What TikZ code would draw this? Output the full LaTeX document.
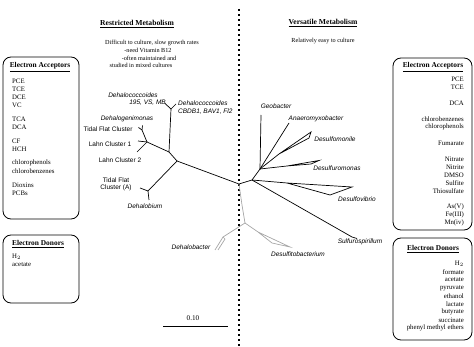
\documentclass[tikz,border=0pt]{standalone}
\usepackage{fontspec}
\setmainfont{Liberation Serif}
\newfontfamily\arialf{Liberation Sans}
\begin{document}
\begin{tikzpicture}[x=1pt,y=-1pt,
  boxframe/.style={draw=black,line width=0.8pt,rounded corners=8pt},
  hdr/.style={font=\fontsize{7.4}{8}\selectfont\bfseries,inner sep=0pt},
  itm/.style={font=\fontsize{6.8}{8}\selectfont,inner sep=0pt},
  ttl/.style={font=\fontsize{7.6}{9}\selectfont\bfseries,inner sep=0pt},
  sub/.style={font=\fontsize{6.2}{7}\selectfont,inner sep=0pt},
  tax/.style={font=\arialf\itshape\fontsize{6.5}{7.5}\selectfont,inner sep=0pt},
  clu/.style={font=\arialf\fontsize{6.5}{7.5}\selectfont,inner sep=0pt,align=center},
  br/.style={line width=0.7pt,black},
  gbr/.style={line width=0.7pt,gray!70},
  dots/.style={line width=2.5pt,dash pattern=on 2.5pt off 2.5pt}
]
\useasboundingbox (0,0) rectangle (474,347);
% dotted divider
\coordinate (dtop) at (239,9);
\coordinate (dbot) at (239,346);
\draw[dots] (dtop) -- (dbot);
% titles
\node[ttl] (tR) at (137,24) {\underline{Restricted Metabolism}};
\node[sub] (s1) at (152,43) {Difficult to culture, slow growth rates};
\node[sub] (s2) at (148,50.5) {-need Vitamin B12};
\node[sub] (s3) at (149,58) {-often maintained and};
\node[sub] (s4) at (141,65.5) {studied in mixed cultures};
\node[ttl] (tV) at (323,23) {\underline{Versatile Metabolism}};
\node[sub] (s5) at (323,41) {Relatively easy to culture};
% left boxes
\node[boxframe,minimum width=76pt,minimum height=162pt,inner sep=0pt] (LA) at (41,138) {};
\node[hdr] (LAh) at (40,67) {\underline{Electron Acceptors}};
\foreach \t/\y [count=\i] in {PCE/81,TCE/89,DCE/97,VC/105,TCA/119,DCA/127,CF/141,HCH/149,chlorophenols/163,chlorobenzenes/171,Dioxins/185,PCBs/193}
  \node[itm,anchor=west] (la\i) at (12,\y) {\t};
\node[boxframe,minimum width=76pt,minimum height=68pt,inner sep=0pt] (LD) at (41,269) {};
\node[hdr] (LDh) at (38,244) {\underline{Electron Donors}};
\node[itm,anchor=west] (ld1) at (12,257) {H$_2$};
\node[itm,anchor=west] (ld2) at (12,265) {acetate};
% right boxes
\node[boxframe,minimum width=79pt,minimum height=172pt,inner sep=0pt] (RA) at (432.5,144) {};
\node[hdr] (RAh) at (433,67) {\underline{Electron Acceptors}};
\foreach \t/\y [count=\i] in {PCE/79,TCE/87,DCA/103,chlorobenzenes/119,chlorophenols/127,Fumarate/143,Nitrate/159,Nitrite/167,DMSO/175,Sulfite/183,Thiosulfate/191,As(V)/207,Fe(III)/215,Mn(iv)/223}
  \node[itm,anchor=east] (ra\i) at (464,\y) {\t};
\node[boxframe,minimum width=79pt,minimum height=102pt,inner sep=0pt] (RD) at (432.5,289) {};
\node[hdr] (RDh) at (433,249) {\underline{Electron Donors}};
\foreach \t/\y [count=\i] in {H$_2$/264,formate/272,acetate/280,pyruvate/288,ethanol/296,lactate/304,butyrate/312,succinate/320,phenyl methyl ethers/328}
  \node[itm,anchor=east] (rd\i) at (464,\y) {\t};
% scale bar
\coordinate (sb1) at (163,326);
\coordinate (sb2) at (228,326);
\draw[line width=0.9pt] (sb1) -- (sb2);
\node[itm,font=\fontsize{7.2}{8}\selectfont] (sbl) at (193,318) {0.10};
% tree labels
\node[tax] (dcA) at (133,95) {Dehalococcoides};
\node[tax,anchor=east] (dcA2) at (166,103) {195, VS, MB};
\node[tax,anchor=west] (dcB) at (178,103) {Dehalococcoides};
\node[tax,anchor=west] (dcB2) at (178,112) {CBDB1, BAV1, Fl2};
\node[tax] (dgm) at (127,119) {Dehalogenimonas};
\node[clu] (tfc) at (108,129) {Tidal Flat Cluster};
\node[clu] (lc1) at (110,144) {Lahn Cluster 1};
\node[clu] (lc2) at (120,160) {Lahn Cluster 2};
\node[clu] (tfa) at (116,184.5) {Tidal Flat\\Cluster (A)};
\node[tax] (dbm) at (145,206) {Dehalobium};
\node[tax] (geo) at (276,106) {Geobacter};
\node[tax] (ana) at (316,119) {Anaeromyxobacter};
\node[tax] (dml) at (335,139) {Desulfomonile};
\node[tax] (dmn) at (337,168) {Desulfuromonas};
\node[tax] (dvb) at (357,199) {Desulfovibrio};
\node[tax] (ssp) at (360,242) {Sulfurospirillum};
\node[tax] (dbc) at (191,247) {Dehalobacter};
\node[tax] (dsb) at (298,254) {Desulfitobacterium};
% tree coordinates
\coordinate (dcY) at (171,109);
\coordinate (dcYl) at (165,103.5);
\coordinate (dcYr) at (176,104);
\coordinate (n2) at (169,152);
\coordinate (n1) at (147,142);
\coordinate (n1a) at (142,130);
\coordinate (n1b) at (138.5,127.5);
\coordinate (n1c) at (142.5,125.5);
\coordinate (n1d) at (138,141);
\coordinate (n1e) at (137,152);
\coordinate (n3) at (177,161);
\coordinate (nDb) at (148,191);
\coordinate (nDa) at (140,188);
\coordinate (nDc) at (149,200);
\coordinate (c) at (239,184);
\coordinate (r) at (252,180);
\coordinate (h) at (260,169);
\coordinate (geoE) at (261,115);
\coordinate (anaE) at (289,123);
\coordinate (ml0) at (279,154);
\coordinate (ml1) at (311,132);
\coordinate (ml2) at (309,138);
\coordinate (mn0) at (287,166);
\coordinate (mn1) at (319,160.5);
\coordinate (mn2) at (311,164);
\coordinate (vb0) at (287,183);
\coordinate (vb1) at (352,187);
\coordinate (vb2) at (330,195);
\coordinate (spE) at (352,237);
\coordinate (spT) at (357,238.5);
\coordinate (g1) at (242,205);
\coordinate (g2) at (245,223);
\coordinate (gb1) at (223,237);
\coordinate (gb2) at (215,250);
\coordinate (gb3) at (225,239);
\coordinate (gb4) at (218,250);
\coordinate (gd0) at (258,232);
\coordinate (gd1) at (290,247);
\coordinate (gd2) at (272,243);
% black branches
\draw[br] (dcYl) -- (dcY) -- (dcYr);
\draw[br] (dcY) -- (n2);
\draw[br] (n1) -- (n2) -- (n3);
\draw[br] (n1) -- (n1a) -- (n1b);
\draw[br] (n1a) -- (n1c);
\draw[br] (n1) -- (n1d);
\draw[br] (n1) -- (n1e);
\draw[br] (n3) -- (nDb) -- (nDa);
\draw[br] (nDb) -- (nDc);
\draw[br] (n3) -- (c) -- (r) -- (h);
\draw[br] (h) -- (geoE);
\draw[br] (h) -- (anaE);
\draw[br] (h) -- (ml0) -- (ml1) -- (ml2) -- (ml0);
\draw[br] (h) -- (mn0) -- (mn1) -- (mn2) -- (mn0);
\draw[br] (r) -- (vb0) -- (vb1) -- (vb2) -- (vb0);
\draw[br] (r) -- (spE) -- (spT);
% gray branches
\draw[gbr] (c) -- (g1) -- (g2);
\draw[gbr] (g2) -- (gb1) -- (gb2);
\draw[gbr] (gb1) -- (gb3) -- (gb4);
\draw[gbr] (g2) -- (gd0) -- (gd1) -- (gd2) -- (gd0);
\end{tikzpicture}
\end{document}
